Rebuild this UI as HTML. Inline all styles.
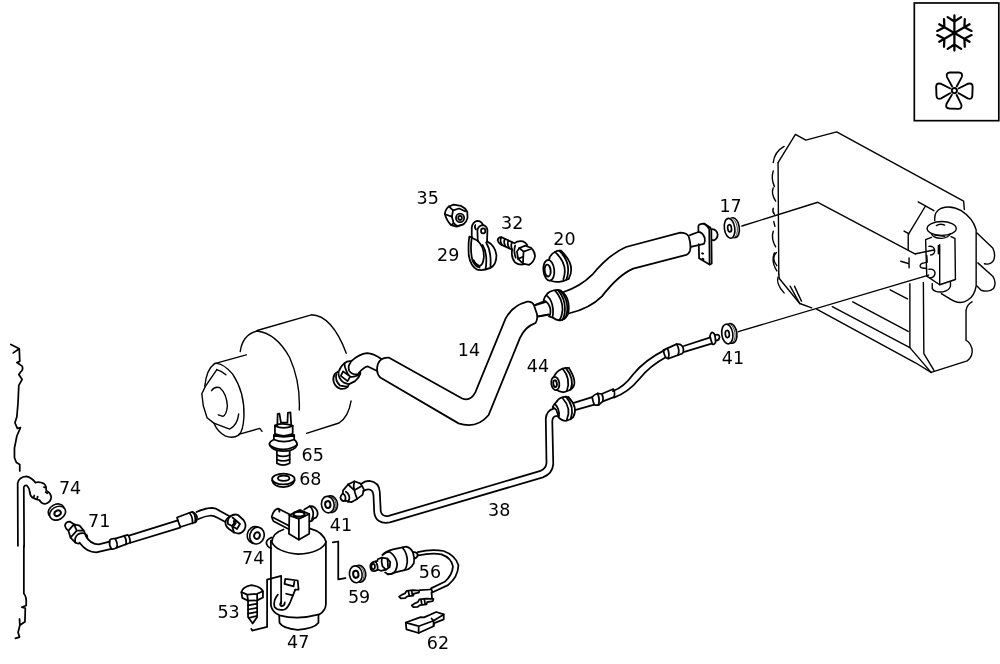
<!DOCTYPE html>
<html lang="en">
<head>
<meta charset="utf-8">
<title>Diagram</title>
<style>
html,body{margin:0;padding:0;background:#fff;}
body{width:1000px;height:664px;overflow:hidden;}
svg{display:block;will-change:transform;}
.l{fill:none;stroke:#000;stroke-width:1.75px;stroke-linecap:round;stroke-linejoin:round;}
.l *{vector-effect:non-scaling-stroke;}
.e{stroke-width:1.4px;}
.w{fill:#fff;stroke:#000;stroke-width:1.6px;}
.t{font-family:"DejaVu Sans","Liberation Sans",sans-serif;font-size:17.5px;fill:#000;}
</style>
</head>
<body>
<svg width="1000" height="664" viewBox="0 0 1000 664">
<rect x="0" y="0" width="1000" height="664" fill="#fff"/>
<!-- 01_box.frag -->
<g id="iconbox" transform="translate(900,0) scale(0.19881)">
  <rect x="72" y="15" width="425" height="592" fill="#fff" stroke="#000" stroke-width="8.5"/>
  <g id="snow" transform="translate(273.6,166)" fill="none" stroke="#000" stroke-width="11.5" stroke-linecap="round">
    <path d="M0,0 L0,-88 M0,-58 L-34,-80 M0,-58 L34,-80"/>
    <path transform="rotate(60)" d="M0,0 L0,-88 M0,-58 L-34,-80 M0,-58 L34,-80"/>
    <path transform="rotate(120)" d="M0,0 L0,-88 M0,-58 L-34,-80 M0,-58 L34,-80"/>
    <path transform="rotate(180)" d="M0,0 L0,-88 M0,-58 L-34,-80 M0,-58 L34,-80"/>
    <path transform="rotate(240)" d="M0,0 L0,-88 M0,-58 L-34,-80 M0,-58 L34,-80"/>
    <path transform="rotate(300)" d="M0,0 L0,-88 M0,-58 L-34,-80 M0,-58 L34,-80"/>
  </g>
  <g id="fan" transform="translate(273.6,455.7)" fill="none" stroke="#000" stroke-width="9.5" stroke-linejoin="round">
    <path d="M-10,-18 L-37,-68 Q-44,-90 -22,-91 L22,-91 Q44,-90 37,-68 L10,-18"/>
    <path transform="rotate(92)" d="M-10,-18 L-37,-68 Q-44,-90 -22,-91 L22,-91 Q44,-90 37,-68 L10,-18"/>
    <path transform="rotate(182)" d="M-10,-18 L-37,-68 Q-44,-90 -22,-91 L22,-91 Q44,-90 37,-68 L10,-18"/>
    <path transform="rotate(268)" d="M-10,-18 L-37,-68 Q-44,-90 -22,-91 L22,-91 Q44,-90 37,-68 L10,-18"/>
    <circle cx="0" cy="0" r="13"/>
  </g>
</g>
<!-- 02_evap.frag -->
<g id="evap-a" transform="translate(760,130) scale(0.24096)" class="l e">
  <path d="M75,135 L147,18 L190,42 L318,8 L845,295 L848,330"/>
  <path d="M75,135 L78,600"/>
  <path d="M100,68 Q60,90 55,135"/>
  <path d="M55,170 Q45,200 60,235"/>
  <path d="M55,240 Q45,265 65,295"/>
  <path d="M55,325 Q50,340 60,350"/>
  <path d="M57,380 L62,400"/>
  <path d="M55,420 Q45,450 65,485"/>
  <path d="M60,510 Q45,545 70,585"/>
  <path d="M-75,398.5 L240,300 L645,515"/>
</g>
<g id="evap-b" transform="translate(760,250) scale(0.24096)" class="l e">
  <path d="M78,100 L80,118 L165,222"/>
  <path d="M68,10 Q45,35 70,65"/>
  <path d="M75,112 Q65,140 100,178"/>
  <path d="M125,150 L165,222 M143,150 L172,212"/>
  <path d="M165,222 L215,240"/>
  <path d="M235,245 L645,468 L710,508"/>
  <path d="M300,235 L622,405"/>
  <path d="M385,215 L615,338"/>
  <path d="M540,165 L612,203"/>
  <path d="M-90,339 L700,104"/>
  <path d="M622,140 L622,405 L710,508"/>
  <path d="M678,135 L680,430 L722,500"/>
  <path d="M710,508 L860,460 Q885,440 880,410 Q872,382 855,375 L855,250 Q860,225 880,215"/>
</g>
<g id="evap-c" transform="translate(890,190) scale(0.16567)" class="l e">
  <path d="M270,185 Q265,130 310,110 Q370,90 430,125 Q500,170 520,240 L520,580 Q510,640 470,664 Q420,700 350,650 L310,625"/>
  <path d="M525,260 L620,350 Q640,390 625,425 Q605,455 570,445"/>
  <path d="M530,440 L620,520 Q645,560 625,595 Q600,620 550,605 L525,580"/>
  <ellipse cx="312" cy="232" rx="88" ry="42" fill="#fff"/>
  <path d="M280,215 Q300,200 330,212"/>
  <path d="M250,264 Q260,290 310,292 Q350,290 365,264"/>
  <path d="M270,272 L330,280"/>
  <path d="M250,286 L215,300 L222,520 L300,572 L395,540 L392,292 L368,282"/>
  <path d="M300,330 L300,572"/>
  <path d="M235,340 Q265,335 270,365 Q268,392 245,392"/>
  <path d="M235,478 Q268,475 272,500 Q270,528 245,530"/>
  <path d="M292,335 L292,385"/>
  <path d="M222,395 L225,435 L205,440 Q180,445 182,460 Q185,475 215,472 L222,478"/>
  <path d="M255,565 L255,595 Q270,620 320,615 Q360,605 365,580 L365,555"/>
  <path d="M155,385 L265,362"/>
  <path d="M170,72 L265,125 M215,95 L110,270 L110,360 M85,248 L115,265"/>
  <path d="M65,430 L115,445 M115,410 L115,470"/>
</g>
<!-- 03_comp.frag -->
<g id="comp-a" transform="translate(180,290) scale(0.24096)" class="l e">
  <path d="M320,168 L545,103 Q630,105 690,262"/>
  <path d="M710,460 Q700,525 660,552 L525,595"/>
  <path d="M250,255 Q260,185 320,170 Q400,180 455,280 Q500,380 495,498"/>
</g>
<g id="comp-b" transform="translate(195,350) scale(0.15068)" class="l e">
  <path d="M65,240 Q75,130 130,90 Q180,80 250,160 Q330,280 325,440 Q320,540 290,565 Q250,590 200,570 Q150,545 125,485"/>
  <path d="M130,90 L340,32"/>
  <path d="M290,560 L430,520 L445,540"/>
  <path d="M145,130 L70,240 L45,290 L55,370 L80,450 L125,485 L230,525 Q280,500 290,425"/>
  <path d="M145,130 Q180,140 205,165"/>
  <path d="M110,270 Q130,240 165,250 Q210,290 215,370 Q210,430 185,440 L155,430"/>
</g>
<g id="sw65" transform="translate(240,400) scale(0.15057)" class="l">
  <path d="M248,170 L250,92 L262,90 L272,150 L315,150 L318,85 L335,82 L340,165"/>
  <path d="M232,168 Q285,148 350,170 L350,225 Q290,250 232,225 Z"/>
  <path d="M232,172 Q290,198 350,172"/>
  <path d="M225,232 Q290,258 360,232 L360,262 Q290,290 225,262 Z"/>
  <path d="M225,262 Q198,275 195,292 Q200,322 245,335 Q290,345 335,335 Q378,320 380,292 Q375,272 360,262"/>
  <path d="M197,300 Q240,330 290,328 Q345,325 378,298"/>
  <path d="M245,335 L245,420 Q285,445 330,420 L330,335"/>
  <path d="M245,365 Q285,385 330,365 M245,395 Q285,415 330,395"/>
  <ellipse cx="288" cy="525" rx="75" ry="36"/>
  <ellipse cx="290" cy="520" rx="38" ry="17"/>
  <path d="M213,535 Q225,578 290,578 Q350,575 363,535"/>
</g>
<!-- 04_hose14.frag -->
<g id="hose14-a" transform="translate(320,280) scale(0.24096)" class="l">
  <path d="M240,350 Q250,320 285,322 L590,492 Q625,505 645,465 L770,160 Q800,105 860,90 Q880,88 888,105 L900,140 Q905,162 895,178 Q850,195 830,240 L700,560 Q650,620 575,595 L250,405 Q230,385 240,350 Z"/>
  <path d="M890,105 L935,92 M903,152 L945,145"/>
</g>
<g id="hose14-nut" transform="translate(325,345) scale(0.075267)" class="l">
  <path d="M350,215 Q450,120 560,108 Q640,110 750,185"/>
  <path d="M450,370 Q520,290 570,285 L680,340"/>
  <path d="M340,235 Q300,280 320,340 Q350,390 420,390 Q455,385 470,365"/>
  <path d="M350,215 Q300,205 260,240 Q200,290 190,340 L130,385 Q100,440 115,490 Q140,560 200,580 Q260,590 300,560 L320,520 L400,480 Q450,440 470,380"/>
  <path d="M260,240 Q255,290 285,345 M240,350 L210,410 L300,480 L335,420 Z M335,420 Q380,430 440,400 M285,345 Q300,390 335,420"/>
  <path d="M180,360 Q170,440 250,500 L310,520 M150,390 Q130,470 200,540 L290,552"/>
</g>
<g id="hose14-b" transform="translate(520,200) scale(0.24096)" class="l">
  <path d="M178,383 Q250,360 300,310 Q370,225 440,195 L665,135 Q690,135 700,150 Q712,190 705,212 Q700,225 690,228 L470,285 Q410,310 340,400 Q290,450 205,470"/>
</g>

<g id="grom20" transform="translate(530,235) scale(0.13559)" class="l">
  <path d="M139,184 Q150,140 184,125 Q205,112 228,116"/>
  <path d="M148,336 Q180,350 215,345 Q250,342 286,322"/>
  <ellipse cx="139" cy="260" rx="40" ry="76" transform="rotate(-6 139 260)"/>
  <ellipse cx="130" cy="262" rx="22" ry="44" transform="rotate(-6 130 262)" style="stroke-width:1.9px"/>
  <path d="M184,125 Q285,216 246,326 M215,116 Q312,210 268,330 M228,116 Q341,221 286,322"/>
  <path d="M130,430 Q160,405 210,405 Q250,415 275,470 Q295,530 280,585 Q260,620 225,630 Q190,630 170,610"/>
  <path d="M130,430 Q105,455 100,480 Q140,500 150,545 Q155,585 140,600 L170,610"/>
  <path d="M122,445 Q165,480 170,550 Q172,590 165,608"/>
  <path d="M185,410 Q240,470 240,550 Q235,605 215,630 M205,405 Q260,470 258,550 Q255,600 238,628 M225,408 Q278,470 275,550 Q272,595 255,618"/>
  <path d="M40,515 L100,490 M60,600 L140,585"/>
</g>
<g id="flange17" transform="translate(690,205) scale(0.07)" class="l">
  <path d="M120,385 L120,300 Q130,265 200,265 L290,320 Q305,340 305,370 L310,835 L285,852 L130,760 L125,560"/>
  <path d="M200,265 Q260,310 275,345 L280,848"/>
  <path d="M320,345 Q380,350 395,420 Q395,480 340,505 L318,500"/>
  <path d="M0,430 L120,385 Q180,390 210,470 Q220,520 200,555 L10,598"/>
  <path d="M175,690 L185,695 M180,770 L190,775" style="stroke-width:2px"/>
</g>
<!-- 05_hw.frag -->
<g id="hw-top" transform="translate(435,195) scale(0.12048)" class="l">
  <path d="M82,160 Q85,120 115,95 L155,80 L215,90 Q250,105 268,140 L270,190 Q262,225 235,245 L180,262 L135,250 Q100,220 82,160 Z"/>
  <path d="M150,128 L200,112 L250,135 M235,243 L185,258 L155,235 L140,180 L150,128"/>
  <path d="M115,95 L150,128 M82,160 L140,180 M135,250 L155,235"/>
  <ellipse cx="208" cy="190" rx="34" ry="36"/>
  <ellipse cx="208" cy="190" rx="15" ry="16"/>
  <path d="M355,380 L352,295 Q355,260 390,250 Q430,250 435,290 L432,385"/>
  <ellipse cx="400" cy="298" rx="18" ry="20"/>
  <path d="M305,355 L305,270 Q312,225 350,215 Q385,215 400,250"/>
  <path d="M335,250 Q325,268 340,285"/>
  <path d="M432,385 Q500,420 510,500 Q510,580 460,605 Q400,630 350,620 Q295,590 280,500 Q275,400 285,345 L305,350"/>
  <path d="M355,380 Q410,430 405,520 Q400,580 370,590 Q330,570 320,540"/>
  <path d="M425,395 Q470,470 460,600 M395,415 Q440,490 420,615"/>
  <path d="M305,355 Q290,450 310,540 Q330,590 370,602"/>
  <path d="M305,355 L355,380"/>
  <path d="M520,375 Q525,350 550,350 L660,400 M520,375 Q525,400 545,410 L640,455"/>
  <path d="M550,352 Q535,380 555,412 M580,365 Q565,392 585,425 M610,378 Q595,405 615,440 M640,392 Q625,420 640,452"/>
  <path d="M660,400 Q690,375 730,385 Q755,395 765,415 M640,455 Q630,520 665,560 Q700,585 740,575"/>
  <path d="M680,470 L700,440 L750,420 L800,440 Q830,470 830,510 Q820,560 780,580 L730,570 L690,530 Z"/>
  <path d="M700,440 L735,470 L730,570 M735,470 L790,450 M690,530 L725,515"/>
  <path d="M665,420 Q650,470 670,520"/>
</g>
<!-- 06_hose38.frag -->
<g id="hose38-a" transform="translate(520,320) scale(0.24096)" class="l">
  <path d="M385,295 Q430,280 470,225 Q520,165 600,125"/>
  <path d="M390,322 Q450,300 495,245 Q540,190 605,155"/>
  <path d="M595,125 L650,100 Q675,98 678,120 Q680,135 672,140 L615,160 Q600,160 595,125 Z"/>
  <path d="M650,100 Q664,122 656,146 M612,118 Q622,140 615,160"/>
  <path d="M680,108 L790,72 M682,132 L795,98"/>
  <path d="M788,68 Q792,50 800,52 Q808,55 810,70 L812,92 Q805,105 798,100 Z"/>
  <path d="M812,62 Q828,58 828,72 Q826,85 814,85"/>
</g>
<g id="hose38-b" transform="translate(320,440) scale(0.24096)" class="l">
  <path d="M970,-130 Q940,-123 937,-88 L940,95 Q938,120 915,128 L285,315 Q258,320 252,295 L248,215 Q245,175 205,170 Q185,170 170,183"/>
  <path d="M985,-100 Q965,-100 964,-78 L968,100 Q965,140 925,155 L290,342 Q232,352 225,300 L222,230 Q220,205 200,205 Q190,205 180,212"/>
</g>

<g id="nut38" transform="translate(330,470) scale(0.09036)" class="l">
  <path d="M200,160 L270,125 L340,150 L375,215 L360,275 L300,320 L240,355 L200,350"/>
  <path d="M200,160 L145,225 L140,262 Q120,280 115,305 Q120,335 150,345 L178,338 L200,350"/>
  <path d="M175,240 Q212,262 215,310 Q210,340 200,350"/>
  <path d="M145,262 Q170,275 172,305 Q172,325 165,340"/>
  <path d="M270,125 Q255,170 270,225 Q280,270 300,320 M270,225 L345,180 M200,160 Q230,190 270,225"/>
</g>
<g id="sw56" transform="translate(360,540) scale(0.11)" class="l">
  <path d="M205,135 Q240,100 300,85 L420,60 Q460,70 480,110 Q500,160 490,210 Q470,250 440,265 L320,295 Q280,315 250,312"/>
  <path d="M205,135 Q235,105 270,108 Q330,150 338,220 Q335,290 285,308 Q255,318 228,295"/>
  <path d="M385,68 Q432,120 430,200 Q425,250 405,275"/>
  <path d="M480,110 Q520,105 525,135 Q525,160 495,170"/>
  <path d="M160,175 L200,160 L250,170 L275,200 L270,245 L235,270 L190,280 L160,268"/>
  <path d="M200,160 Q190,200 205,240 L235,270 M250,170 L255,245"/>
  <path d="M160,190 L140,195 Q105,200 95,225 Q90,260 110,280 Q130,290 160,270"/>
  <path d="M140,195 Q165,225 160,270"/>
  <ellipse cx="120" cy="242" rx="16" ry="24"/>
  <path d="M525,110 Q650,80 760,100 Q870,140 895,230 Q890,340 800,410 L660,475 L645,440 L770,380 Q840,320 845,240 Q830,160 740,130 Q650,115 530,140"/>
  <path d="M645,450 L545,455 M650,475 L655,530"/>
  <path d="M355,515 Q380,495 410,485 L425,462 L480,455 L540,460 L535,478 L490,488 L485,505 L430,512 L410,528 L370,530 Z"/>
  <path d="M440,468 L448,505 M470,462 L476,500"/>
  <path d="M470,595 Q495,575 525,565 L540,540 L600,532 L668,535 L662,555 L610,565 L605,585 L545,592 L525,608 L485,610 Z"/>
  <path d="M555,545 L562,585 M585,540 L592,580"/>
</g>
<g id="grom44" transform="translate(530,355) scale(0.1054)" class="l">
  <path d="M225,212 Q250,150 310,130 Q340,120 370,125"/>
  <path d="M250,330 Q290,358 330,350 Q370,345 400,315"/>
  <ellipse cx="240" cy="270" rx="38" ry="64" transform="rotate(-8 240 270)"/>
  <ellipse cx="238" cy="272" rx="17" ry="32" transform="rotate(-8 238 272)" style="stroke-width:1.9px"/>
  <path d="M310,130 Q390,225 350,340 M340,125 Q428,232 385,330 M370,125 Q455,260 400,315"/>
  <path d="M255,440 Q280,400 340,395 Q355,395 365,400"/>
  <path d="M270,590 Q300,625 340,625 Q380,620 410,590"/>
  <path d="M255,440 Q225,470 215,495 Q232,502 250,522 Q265,560 270,590"/>
  <path d="M240,468 Q280,510 275,580"/>
  <path d="M310,410 Q395,505 350,612 M340,395 Q430,495 385,610 M365,400 Q460,500 410,590"/>
  <path d="M415,455 L590,400 M435,520 L610,470"/>
  <path d="M590,400 Q600,380 640,365 L680,370 Q700,400 690,440 L650,475 Q620,480 610,470 Q595,440 590,400 Z"/>
  <path d="M640,365 Q665,410 650,475"/>
  <path d="M685,368 L790,322 Q805,340 802,375 Q800,395 795,400 L692,440"/>
</g>
<!-- 07_drier.frag -->
<g id="drier-top" transform="translate(260,495) scale(0.09036)" class="l">
  <path d="M130,520 Q140,420 260,382 M555,372 Q700,410 732,520"/>
  <path d="M130,520 Q180,630 420,655 Q680,640 732,520"/>
  <path d="M125,470 Q75,490 70,530 Q80,580 125,590"/>
  <path d="M325,225 L320,430 L430,495 L545,430 L545,210 L440,165 Z"/>
  <path d="M325,225 L430,265 L545,210 M430,265 L430,495"/>
  <ellipse cx="432" cy="212" rx="62" ry="28" style="stroke-width:2.2px"/>
  <path d="M330,215 L200,150 Q150,160 130,240 Q135,270 150,290 L320,380"/>
  <path d="M145,250 L320,340 M200,150 Q215,165 215,185"/>
  <path d="M490,160 L550,125 Q600,115 630,170 Q650,220 620,250 L590,262"/>
  <path d="M550,125 Q585,150 590,200 Q590,240 575,268 M548,292 Q578,295 590,262"/>
</g>
<g id="drier-a" transform="translate(200,490) scale(0.18072)" class="l">
  <path d="M735,290 L765,285 L765,495 L805,488"/>
</g>
<g id="drier-b" transform="translate(200,554) scale(0.16567)" class="l">
  <path d="M428,-80 L428,310 Q435,350 480,370 Q590,400 720,365 Q760,340 760,300 L760,-62"/>
  <path d="M478,372 L480,415 Q500,450 590,458 Q690,450 715,415 L715,368"/>
  <path d="M405,155 L490,132 L490,300 M405,155 L405,440 L315,462 L310,452"/>
  <path d="M470,245 Q440,280 450,320 Q470,345 510,335 Q530,325 545,290 L575,215"/>
  <path d="M490,290 Q478,305 490,315 Q510,315 512,292"/>
  <path d="M515,150 L590,160 L595,215 L575,215 M515,150 L510,180 L565,195 L570,165 M520,240 L560,250"/>
  <path d="M250,230 Q255,200 310,188 Q365,195 380,225 L380,262 L345,280 L290,282 L255,265 Z"/>
  <path d="M250,230 L285,245 L345,240 L380,225 M285,245 L290,282 M345,240 L345,280"/>
  <path d="M290,285 L290,380 L318,420 L345,380 L345,285"/>
  <path d="M290,310 L345,300 M290,335 L345,325 M290,360 L345,350 M295,385 L340,375"/>
</g>
<g id="conn62" transform="translate(380,574) scale(0.13559)" class="l">
  <path d="M190,358 L300,318 L325,320 L415,280 L470,298 L470,335 L400,362 L395,385 L285,435 L195,408 Z"/>
  <path d="M190,358 L285,385 L395,345 L470,298 M285,385 L285,435 M395,345 L395,385 M380,328 L395,345"/>
</g>
<!-- 08_left.frag -->
<g id="left-a" transform="translate(0,450) scale(0.24096)" class="l">
  <path d="M330,385 Q360,425 400,425 L462,410"/>
  <path d="M355,355 Q375,392 410,392 L455,380"/>
  <path d="M455,375 Q462,365 478,368 L530,352 Q540,360 540,385 L485,405 Q468,415 462,410 Q452,395 455,375 Z"/>
  <path d="M478,368 Q490,390 485,405 M515,356 Q528,375 522,392"/>
  <path d="M535,355 L738,292 M542,385 L748,322"/>
</g>
<g id="left-b" transform="translate(0,330) scale(0.24096)" class="l">
  <path d="M45,60 L80,78 L55,95 M80,78 L82,130 L70,135 L92,150 Q98,165 85,175 L78,185 L92,205 L78,230 L75,300 L70,360 L62,385 L72,408 L85,405 L70,440 L60,490 L60,530 L68,550 L82,558 L82,585"/>
</g>
<g id="left-c" transform="translate(0,544) scale(0.18072)" class="l">
  <path d="M132,10 L132,275 Q148,290 145,340 L120,350 L140,355 L138,430 L110,450 L108,415 M110,450 L100,490 L108,515 L85,522"/>
</g>

<g id="hose71-r" transform="translate(170,495) scale(0.1)" class="l">
  <path d="M70,225 L215,170 Q250,170 270,215 Q275,250 260,270 L120,315 Q100,320 95,300 Q80,260 70,225 Z"/>
  <path d="M195,180 Q230,220 225,285 M225,168 Q265,215 250,275"/>
  <path d="M265,170 Q350,130 420,128 Q460,130 500,160 L600,215"/>
  <path d="M285,240 Q350,210 410,205 Q440,205 470,225 L555,270"/>
  <path d="M600,215 Q640,185 680,200 L735,250 Q770,300 745,345 Q720,385 680,385 L640,375 L590,340 Q550,310 555,270 Q560,235 600,215 Z"/>
  <path d="M600,215 Q570,250 580,290 L620,310 L660,255 L625,225 M620,310 L640,375 M660,255 L700,290 L670,340 L620,310"/>
  <path d="M640,262 L655,280 L640,300" style="stroke-width:2.4px"/>
</g>
<g id="fit74" transform="translate(10,465) scale(0.113)" class="l">
  <path d="M486,537 Q492,500 529,500 L566,525 M486,537 Q492,568 517,581"/>
  <path d="M517,581 L566,525 L616,537 L653,581 L666,612 M517,581 L535,642 L579,686 M566,525 L591,581 L535,642 M591,581 L653,581"/>
  <path d="M579,686 Q566,642 604,612 Q647,593 678,618 Q690,635 684,649 M579,686 Q600,700 618,692"/>
  <path d="M70,715 L68,160 Q80,105 145,100 Q190,110 225,155"/>
  <path d="M125,720 L122,195 Q130,178 150,182 Q170,200 175,240"/>
  <path d="M225,155 Q260,145 300,165 Q325,185 320,225 Q360,245 365,285 Q360,335 310,345 Q280,345 260,310 Q230,305 200,290 Q175,270 175,240"/>
  <path d="M300,195 L320,200 M315,240 L330,250 M210,285 L215,270 M240,295 L245,280"/>
</g>
<!-- 09_labels.frag -->
<g id="labels" class="t">
  <text x="416.6" y="203.6">35</text>
  <text x="437.1" y="261.3">29</text>
  <text x="501.1" y="229.3">32</text>
  <text x="553.3" y="245.2">20</text>
  <text x="719.4" y="212.3">17</text>
  <text x="457.8" y="356.1">14</text>
  <text x="526.8" y="372.4">44</text>
  <text x="721.8" y="363.7">41</text>
  <text x="301.5" y="461.1">65</text>
  <text x="299.2" y="485.2">68</text>
  <text x="329.8" y="531.0">41</text>
  <text x="488.0" y="516.4">38</text>
  <text x="58.9" y="494.3">74</text>
  <text x="88.1" y="527.4">71</text>
  <text x="242.0" y="563.9">74</text>
  <text x="418.8" y="577.6">56</text>
  <text x="347.9" y="603.0">59</text>
  <text x="217.4" y="618.4">53</text>
  <text x="287.0" y="648.2">47</text>
  <text x="426.8" y="649.1">62</text>
</g>
<!-- 10_washers.frag -->
<g id="washers" class="w">
  <g transform="translate(729.6,228.3) rotate(-8.0)"><ellipse cx="4.50" cy="0.00" rx="5.20" ry="10.00"/><ellipse cx="2.48" cy="0.00" rx="5.20" ry="10.00" style="stroke-width:0.7px"/><ellipse cx="0" cy="0" rx="5.20" ry="10.00"/><ellipse cx="0" cy="0" rx="1.87" ry="3.60" style="stroke-width:1.7px"/></g>
  <g transform="translate(727.3,334.0) rotate(-8.0)"><ellipse cx="4.10" cy="0.00" rx="5.50" ry="9.90"/><ellipse cx="2.25" cy="0.00" rx="5.50" ry="9.90" style="stroke-width:0.7px"/><ellipse cx="0" cy="0" rx="5.50" ry="9.90"/><ellipse cx="0" cy="0" rx="1.98" ry="3.56" style="stroke-width:1.7px"/></g>
  <g transform="translate(57.6,513.2) rotate(60.0)"><ellipse cx="-2.70" cy="0.00" rx="6.40" ry="8.40"/><ellipse cx="0" cy="0" rx="6.40" ry="8.40"/><ellipse cx="0" cy="0" rx="2.56" ry="3.36" style="stroke-width:2.0px"/></g>
  <g transform="translate(257.0,535.6) rotate(15.0)"><ellipse cx="-2.60" cy="0.00" rx="7.10" ry="8.50"/><ellipse cx="0" cy="0" rx="7.10" ry="8.50"/><ellipse cx="0" cy="0" rx="2.84" ry="3.40" style="stroke-width:2.0px"/></g>
  <g transform="translate(327.8,504.6) rotate(-8.0)"><ellipse cx="3.40" cy="0.00" rx="6.30" ry="8.30"/><ellipse cx="1.87" cy="0.00" rx="6.30" ry="8.30" style="stroke-width:0.7px"/><ellipse cx="0" cy="0" rx="6.30" ry="8.30"/><ellipse cx="0" cy="0" rx="2.65" ry="3.49" style="stroke-width:2.0px"/></g>
  <g transform="translate(355.8,574.3) rotate(-8.0)"><ellipse cx="3.70" cy="0.00" rx="6.30" ry="8.50"/><ellipse cx="2.04" cy="0.00" rx="6.30" ry="8.50" style="stroke-width:0.7px"/><ellipse cx="0" cy="0" rx="6.30" ry="8.50"/><ellipse cx="0" cy="0" rx="2.65" ry="3.57" style="stroke-width:2.0px"/></g>
</g>
</svg>
</body>
</html>
